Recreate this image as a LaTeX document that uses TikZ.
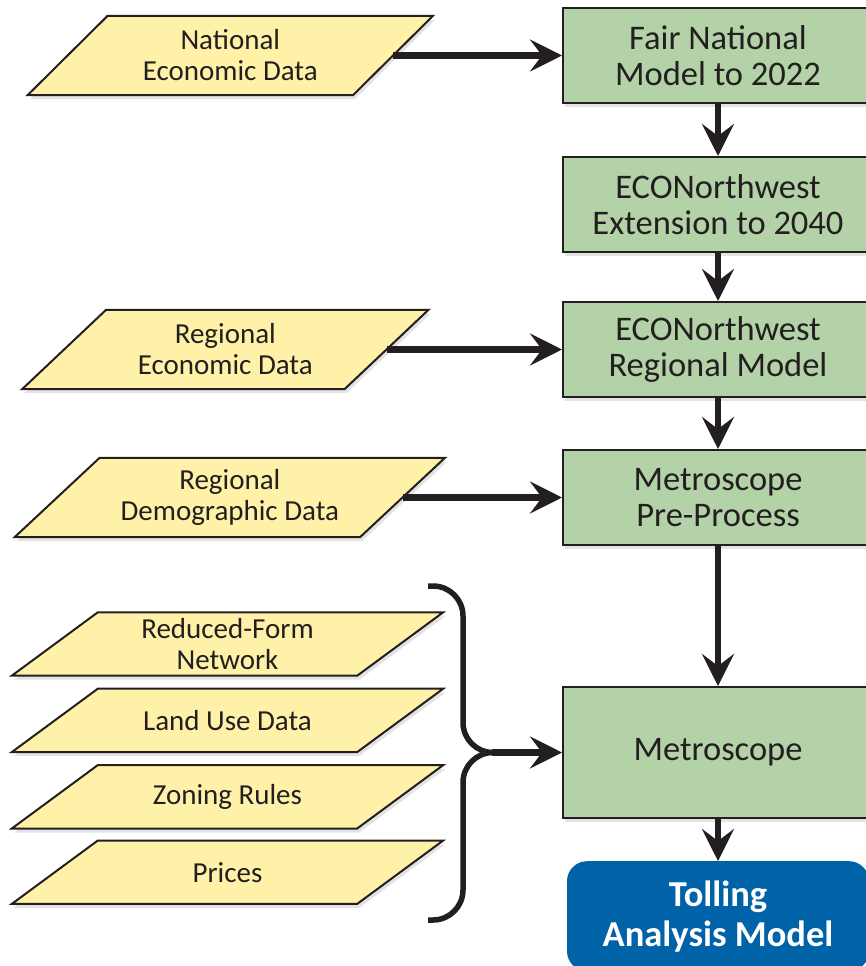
\documentclass[tikz,border=0pt]{standalone}
\usepackage{fontspec}
\setmainfont{Carlito}
\usepackage{xcolor}
\usepackage{tikz}
\usetikzlibrary{arrows.meta,positioning,calc,shadows}
\pgfdeclarelayer{background}
\pgfsetlayers{background,main}
\definecolor{flowInk}{HTML}{231F20}
\definecolor{flowYellow}{HTML}{FFF2A8}
\definecolor{flowGreen}{HTML}{B4D2A7}
\definecolor{flowBlue}{HTML}{0063A8}
\tikzset{
  model/.style={
    rectangle,
    draw=flowInk,
    fill=flowGreen,
    line width=2pt,
    minimum width=310pt,
    minimum height=95pt,
    inner sep=0pt,
    align=center,
    text=flowInk,
    font=\fontsize{34.5}{36}\selectfont,
    drop shadow={shadow xshift=2pt,shadow yshift=-4pt,opacity=0.22}
  },
  dataText/.style={
    rectangle,
    minimum width=325pt,
    minimum height=79pt,
    inner sep=0pt,
    align=center,
    text=flowInk,
    font=\fontsize{29}{31}\selectfont
  },
  layerText/.style={
    dataText,
    minimum width=345pt,
    minimum height=63pt
  },
  dataShape/.style={
    draw=flowInk,
    fill=flowYellow,
    line width=2pt,
    drop shadow={shadow xshift=2pt,shadow yshift=-4pt,opacity=0.22}
  },
  result/.style={
    rectangle,
    rounded corners=20pt,
    fill=flowBlue,
    minimum width=302pt,
    minimum height=110pt,
    inner sep=0pt,
    align=center,
    text=white,
    font=\fontsize{36.5}{40}\selectfont\bfseries
  },
  arrow/.style={
    -{Stealth[length=32pt,width=32pt,inset=12pt]},
    line width=6.5pt,
    draw=flowInk
  },
  brace/.style={
    line width=5.5pt,
    rounded corners=30pt,
    draw=flowInk
  }
}

\begin{document}
\begin{tikzpicture}[x=1pt,y=-1pt]
  \useasboundingbox (0,0) rectangle (866,966);
  \node[model] (fair) at (718,55.5) {Fair National\\Model to 2022};
  \node[model,below=52pt of fair] (ext) {ECONorthwest\\Extension to 2040};
  \node[model,below=48pt of ext] (regmodel) {ECONorthwest\\Regional Model};
  \node[model,below=51pt of regmodel] (preproc) {Metroscope\\Pre-Process};
  \node[model,minimum height=131pt,below=140pt of preproc] (metro) {Metroscope};
  \node[result,below=42pt of metro] (tolling) {Tolling\\Analysis Model};
  \node[dataText,left=169pt of fair] (natl) {National\\Economic Data};
  \node[dataText,minimum width=322pt,left=175.5pt of regmodel] (regecon) {Regional\\Economic Data};
  \node[dataText,minimum width=345pt,left=159.5pt of preproc] (regdemo) {Regional\\Demographic Data};
  \node[layerText] (network) at (227.5,644) {Reduced-Form\\Network};
  \node[layerText,below=13pt of network] (landuse) {Land Use Data};
  \node[layerText,below=13pt of landuse] (zoning) {Zoning Rules};
  \node[layerText,below=12pt of zoning] (prices) {Prices};
  \begin{pgfonlayer}{background}
    \foreach \n/\s in {natl/40,regecon/42,regdemo/42.5,network/43,landuse/43,zoning/43,prices/43}
      \draw[dataShape] ($(\n.south west)+(-\s,0)$) -- ($(\n.south east)+(-\s,0)$)
        -- ($(\n.north east)+(\s,0)$) -- ($(\n.north west)+(\s,0)$) -- cycle;
  \end{pgfonlayer}
  \coordinate[left=70pt of metro.west] (join);
  \draw[brace] (428,586) -| (463,752.5) -- (join);
  \draw[brace] (join) -- (463,752.5) |- (428,920);
  \draw[arrow] (natl.east) -- (fair.west |- natl.east);
  \draw[arrow] (regecon.east) -- (regmodel.west |- regecon.east);
  \draw[arrow] (regdemo.east) -- (preproc.west |- regdemo.east);
  \draw[arrow] (join) -- (metro);
  \draw[arrow] (fair) -- (ext);
  \draw[arrow] (ext) -- (regmodel);
  \draw[arrow] (regmodel) -- (preproc);
  \draw[arrow] (preproc) -- (metro);
  \draw[arrow] (metro) -- (tolling);
\end{tikzpicture}
\end{document}
